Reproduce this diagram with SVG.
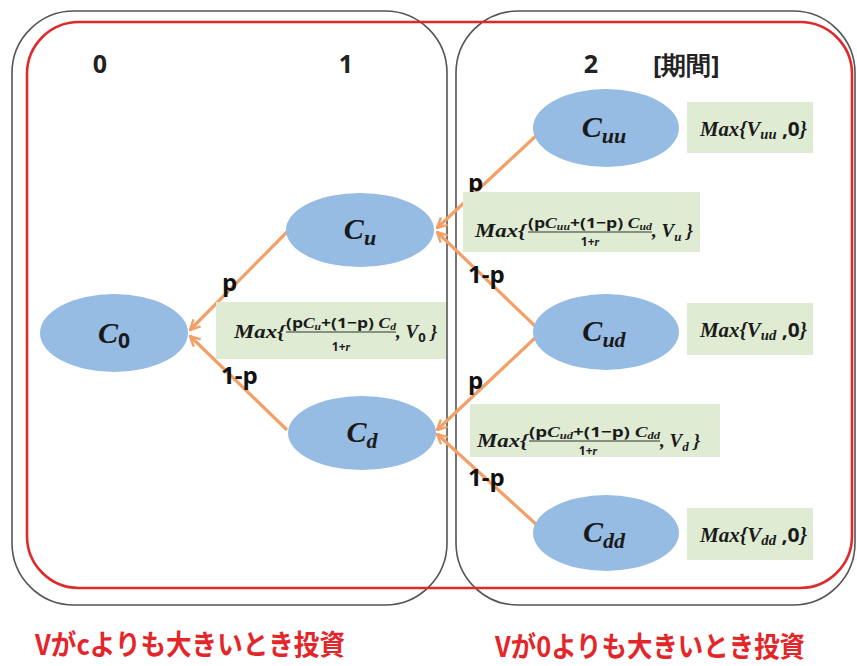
<svg xmlns="http://www.w3.org/2000/svg" width="857" height="666" viewBox="0 0 857 666">
<style>
.frame{fill:none;stroke:#555;stroke-width:1.6}
.red{fill:none;stroke:#e02a2a;stroke-width:2.6}
.node{fill:#96bce4}
.box{fill:#dfecd3}
.conn{stroke:#f2a067;stroke-width:3.2;fill:none;marker-end:url(#arr)}
.num{font-family:"Open Sans","Liberation Sans",sans-serif;font-weight:700;font-size:25px;fill:#222}
.lbl{font-family:"Open Sans","Liberation Sans",sans-serif;font-weight:700;font-size:24px;fill:#111}
.math{font-family:"Liberation Serif","DejaVu Serif",serif;font-style:italic;font-weight:700;fill:#1a1a1a}
.up{font-family:"Open Sans","Liberation Sans",sans-serif;font-style:normal;font-weight:700}
.bot{font-family:"Noto Sans CJK JP","Noto Sans CJK SC",sans-serif;font-weight:700;font-size:28px;fill:#e3262a}
.fr{stroke:#333;stroke-width:1}
</style>
<defs>
<marker id="arr" viewBox="0 0 12 12" refX="11" refY="6" markerWidth="12" markerHeight="12" markerUnits="userSpaceOnUse" orient="auto">
<path d="M1,1 L11,6 L1,11" fill="none" stroke="#f2a067" stroke-width="2.4"/>
</marker>
</defs>
<rect width="857" height="666" fill="#ffffff"/>

<g id="frames">
<rect class="frame" x="12" y="11" width="435" height="594" rx="62"/>
<rect class="frame" x="456" y="11" width="399" height="594" rx="62"/>
<rect class="red" x="27" y="22" width="825" height="566" rx="52"/>
</g>

<g id="period-labels">
<text class="num" x="100" y="73" text-anchor="middle">0</text>
<text class="num" x="346" y="73" text-anchor="middle">1</text>
<text class="num" x="591" y="73" text-anchor="middle">2</text>
<text class="num" x="653" y="74" font-family="Noto Sans CJK JP,sans-serif" font-size="23">[期間]</text>
</g>

<g id="connectors">
<line class="conn" x1="538" y1="134" x2="437" y2="228"/>
<line class="conn" x1="535" y1="326" x2="437" y2="232"/>
<line class="conn" x1="535" y1="338" x2="437" y2="430"/>
<line class="conn" x1="538" y1="526" x2="437" y2="434"/>
<line class="conn" x1="287" y1="232" x2="190" y2="330"/>
<line class="conn" x1="287" y1="430" x2="190" y2="336"/>
</g>

<g id="edge-labels">
<text class="lbl" x="222" y="291">p</text>
<text class="lbl" x="221" y="384">1-p</text>
<text class="lbl" x="468" y="191">p</text>
<text class="lbl" x="468" y="283">1-p</text>
<text class="lbl" x="468" y="389">p</text>
<text class="lbl" x="468" y="486">1-p</text>
</g>

<g id="node-C0">
<ellipse class="node" cx="114" cy="333" rx="74" ry="39"/>
<text class="math" x="114" y="343" text-anchor="middle" font-size="30">C<tspan font-size="21" dy="5" class="up">0</tspan></text>
</g>
<g id="node-Cu">
<ellipse class="node" cx="360" cy="230" rx="74" ry="37"/>
<text class="math" x="360" y="239" text-anchor="middle" font-size="30">C<tspan font-size="22" dy="6">u</tspan></text>
</g>
<g id="node-Cd">
<ellipse class="node" cx="362" cy="433" rx="74" ry="37"/>
<text class="math" x="362" y="442" text-anchor="middle" font-size="30">C<tspan font-size="22" dy="6">d</tspan></text>
</g>
<g id="node-Cuu">
<ellipse class="node" cx="606" cy="128" rx="73" ry="39"/>
<text class="math" x="604" y="137" text-anchor="middle" font-size="30">C<tspan font-size="22" dy="6">uu</tspan></text>
</g>
<g id="node-Cud">
<ellipse class="node" cx="606" cy="332" rx="73" ry="38"/>
<text class="math" x="604" y="341" text-anchor="middle" font-size="30">C<tspan font-size="22" dy="6">ud</tspan></text>
</g>
<g id="node-Cdd">
<ellipse class="node" cx="606" cy="533" rx="73" ry="38"/>
<text class="math" x="604" y="542" text-anchor="middle" font-size="30">C<tspan font-size="22" dy="6">dd</tspan></text>
</g>

<g id="value-uu">
<rect class="box" x="687" y="102" width="126" height="51"/>
<text class="math" x="700" y="136" font-size="20" textLength="107" lengthAdjust="spacingAndGlyphs">Max{V<tspan font-size="14" dy="3">uu</tspan><tspan class="up" dy="-3"> ,0</tspan>}</text>
</g>
<g id="value-ud">
<rect class="box" x="687" y="303" width="126" height="52"/>
<text class="math" x="700" y="337" font-size="20" textLength="107" lengthAdjust="spacingAndGlyphs">Max{V<tspan font-size="14" dy="3">ud</tspan><tspan class="up" dy="-3"> ,0</tspan>}</text>
</g>
<g id="value-dd">
<rect class="box" x="687" y="508" width="126" height="52"/>
<text class="math" x="700" y="542" font-size="20" textLength="107" lengthAdjust="spacingAndGlyphs">Max{V<tspan font-size="14" dy="3">dd</tspan><tspan class="up" dy="-3"> ,0</tspan>}</text>
</g>

<g id="value-u">
<rect class="box" x="463" y="192" width="237" height="60"/>
<text class="math" x="475" y="237" font-size="19" textLength="51" lengthAdjust="spacingAndGlyphs">Max{</text>
<text class="math" x="528" y="228" font-size="15" textLength="124" lengthAdjust="spacingAndGlyphs"><tspan class="up">(p</tspan>C<tspan font-size="10" dy="2">uu</tspan><tspan class="up" dy="-2">+(1−p) </tspan>C<tspan font-size="10" dy="2">ud</tspan></text>
<line class="fr" x1="528" y1="232" x2="652" y2="232"/>
<text class="math" x="590" y="246" font-size="12" text-anchor="middle"><tspan class="up">1+</tspan>r</text>
<text class="math" x="652" y="237" font-size="19">, V<tspan font-size="13" dy="4">u</tspan><tspan dy="-4"> }</tspan></text>
</g>

<g id="value-0">
<rect class="box" x="216" y="302" width="230" height="57"/>
<text class="math" x="234" y="338" font-size="19" textLength="51" lengthAdjust="spacingAndGlyphs">Max{</text>
<text class="math" x="286" y="328" font-size="15" textLength="110" lengthAdjust="spacingAndGlyphs"><tspan class="up">(p</tspan>C<tspan font-size="10" dy="2">u</tspan><tspan class="up" dy="-2">+(1−p) </tspan>C<tspan font-size="10" dy="2">d</tspan></text>
<line class="fr" x1="286" y1="332" x2="396" y2="332"/>
<text class="math" x="341" y="351" font-size="12" text-anchor="middle"><tspan class="up">1+</tspan>r</text>
<text class="math" x="396" y="338" font-size="19">, V<tspan font-size="13" dy="4" class="up">0</tspan><tspan dy="-4"> }</tspan></text>
</g>

<g id="value-d">
<rect class="box" x="470" y="404" width="250" height="53"/>
<text class="math" x="477" y="447" font-size="19" textLength="51" lengthAdjust="spacingAndGlyphs">Max{</text>
<text class="math" x="529" y="437" font-size="15" textLength="131" lengthAdjust="spacingAndGlyphs"><tspan class="up">(p</tspan>C<tspan font-size="10" dy="2">ud</tspan><tspan class="up" dy="-2">+(1−p) </tspan>C<tspan font-size="10" dy="2">dd</tspan></text>
<line class="fr" x1="529" y1="441" x2="660" y2="441"/>
<text class="math" x="588" y="455" font-size="12" text-anchor="middle"><tspan class="up">1+</tspan>r</text>
<text class="math" x="660" y="447" font-size="19">, V<tspan font-size="13" dy="4">d</tspan><tspan dy="-4">  }</tspan></text>
</g>

<g id="captions">
<text class="bot" x="35" y="655" textLength="310" lengthAdjust="spacingAndGlyphs">Vがcよりも大きいとき投資</text>
<text class="bot" x="495" y="657" textLength="310" lengthAdjust="spacingAndGlyphs">Vが0よりも大きいとき投資</text>
</g>
</svg>
